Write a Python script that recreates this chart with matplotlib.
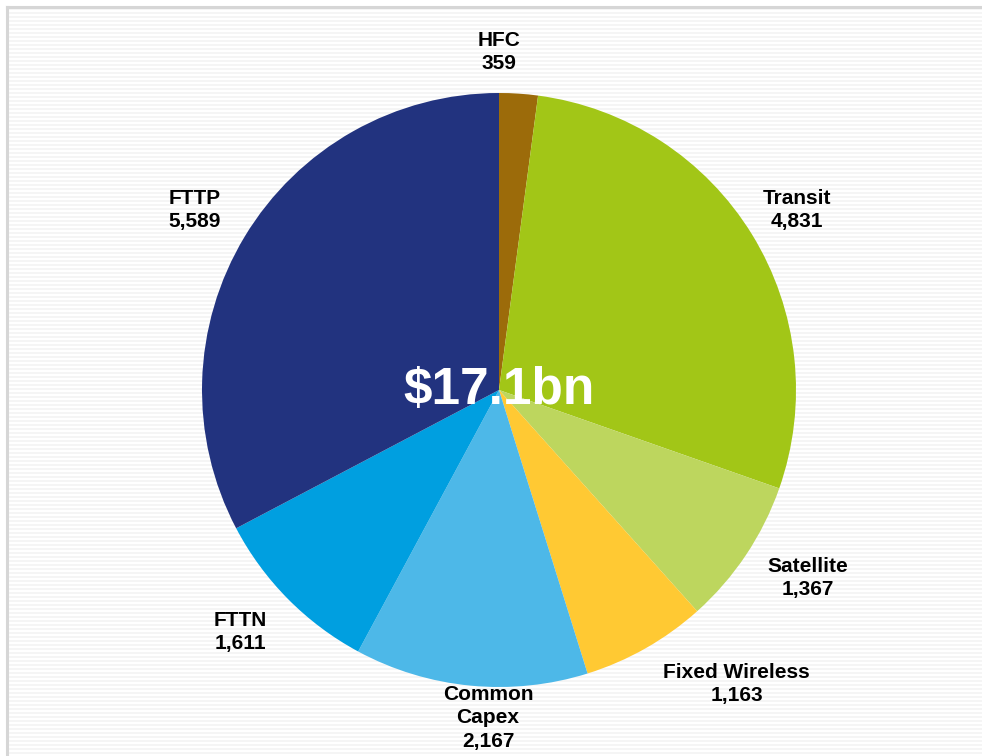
import matplotlib.pyplot as plt
import numpy as np

plt.rcParams['font.family'] = ['Liberation Sans', 'DejaVu Sans']

# data ($m)
segments = ['HFC', 'Transit', 'Satellite', 'Fixed Wireless', 'Common\nCapex', 'FTTN', 'FTTP']
values = [359, 4831, 1367, 1163, 2167, 1611, 5589]
colors = ['#9C6B0A', '#A2C617', '#BDD65E', '#FFC933', '#4DB8E8', '#009FE0', '#22337F']
total_label = '$17.1bn'

# label placement (in pie radius units)
label_pos = [(0.0, 1.138), (1.003, 0.606), (1.04, -0.633), (0.80, -0.99),
             (-0.037, -1.104), (-0.872, -0.815), (-1.024, 0.606)]

W, H = 982, 756
fig = plt.figure(figsize=(W / 100, H / 100), dpi=100)

# striped background panel with grey frame
bg = fig.add_axes([0, 0, 1, 1])
bg.set_xlim(0, W)
bg.set_ylim(H, 0)
bg.axis('off')
bg.fill_between([7, W], 7, H, color='white', zorder=0)
for y in np.arange(9, H, 4):
    bg.plot([8, W], [y, y], color='#f3f3f3', lw=1.2, zorder=1)
bg.plot([7, W], [7, 7], color='#d6d6d6', lw=2.2, zorder=2)
bg.plot([7, 7], [7, H], color='#d6d6d6', lw=2.2, zorder=2)

# pie axes: centre at (499, 390) px, radius 297 px
R = 297
L = 1.4
cx, cy = 499, 390
side = 2 * L * R
ax = fig.add_axes([(cx - side / 2) / W, ((H - cy) - side / 2) / H, side / W, side / H])
ax.pie(values, colors=colors, startangle=90, counterclock=False,
       wedgeprops=dict(linewidth=0))
ax.set_xlim(-L, L)
ax.set_ylim(-L, L)
ax.axis('off')

for name, v, (x, y) in zip(segments, values, label_pos):
    ax.text(x, y, f'{name}\n{v:,}', ha='center', va='center', fontsize=15,
            fontweight='bold', color='black', linespacing=1.3)

ax.text(0, 0.0, total_label, ha='center', va='center', fontsize=37,
        fontweight='bold', color='white')

fig.savefig('out.png', dpi=100)
